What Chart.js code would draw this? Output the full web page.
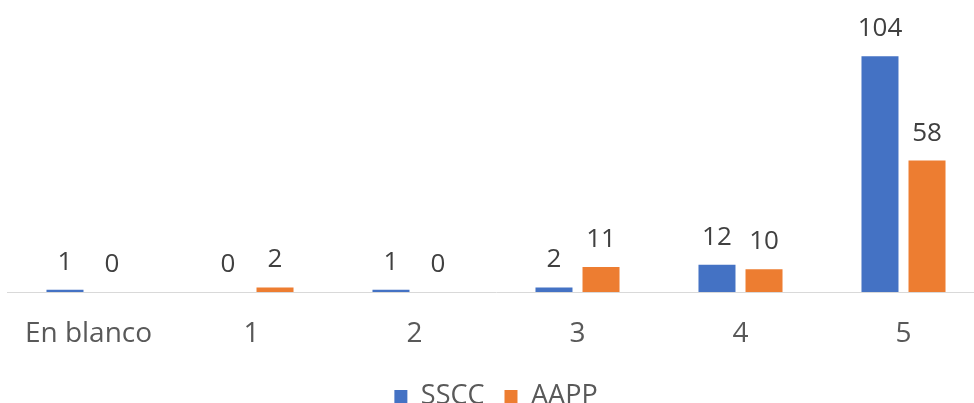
<!DOCTYPE html>
<html>
<head>
<meta charset="utf-8">
<script src="https://cdn.jsdelivr.net/npm/chart.js@4/dist/chart.umd.min.js"></script>
<style>
  html, body { margin: 0; padding: 0; background: #fff; overflow: hidden; }
  #wrap { width: 986px; height: 420px; }
</style>
</head>
<body>
<div id="wrap"><canvas id="chart"></canvas></div>
<script>
const categories = ['En blanco', '1', '2', '3', '4', '5'];
const sscc = [1, 0, 1, 2, 12, 104];
const aapp = [0, 2, 0, 11, 10, 58];

const valueLabels = {
  id: 'valueLabels',
  afterDatasetsDraw(chart) {
    const ctx = chart.ctx;
    ctx.save();
    ctx.font = '26px "Open Sans"';
    ctx.fillStyle = '#404040';
    ctx.textAlign = 'center';
    ctx.textBaseline = 'alphabetic';
    chart.data.datasets.forEach((ds, i) => {
      chart.getDatasetMeta(i).data.forEach((bar, j) => {
        ctx.fillText(String(ds.data[j]), bar.x, bar.y - 20);
      });
    });
    ctx.restore();
  }
};

new Chart(document.getElementById('chart'), {
  type: 'bar',
  data: {
    labels: categories,
    datasets: [
      { label: 'SSCC', data: sscc, backgroundColor: '#4472C4' },
      { label: 'AAPP', data: aapp, backgroundColor: '#ED7D31' }
    ]
  },
  options: {
    responsive: true,
    maintainAspectRatio: false,
    animation: false,
    layout: { padding: { top: 20, left: 7, right: 1, bottom: 0 } },
    datasets: { bar: { categoryPercentage: 0.577, barPercentage: 0.787 } },
    scales: {
      x: {
        grid: { display: false },
        border: { color: '#D9D9D9', width: 1 },
        ticks: { color: '#595959', font: { family: 'Open Sans', size: 28 }, padding: 17 },
        afterFit(s) { s.height = 71; }
      },
      y: { display: false, min: 0, max: 120 }
    },
    plugins: {
      legend: {
        position: 'bottom',
        labels: {
          color: '#595959',
          font: { family: 'Open Sans', size: 27 },
          boxWidth: 13,
          boxHeight: 13,
          padding: 20
        }
      },
      tooltip: { enabled: false }
    }
  },
  plugins: [valueLabels]
});
</script>
</body>
</html>
